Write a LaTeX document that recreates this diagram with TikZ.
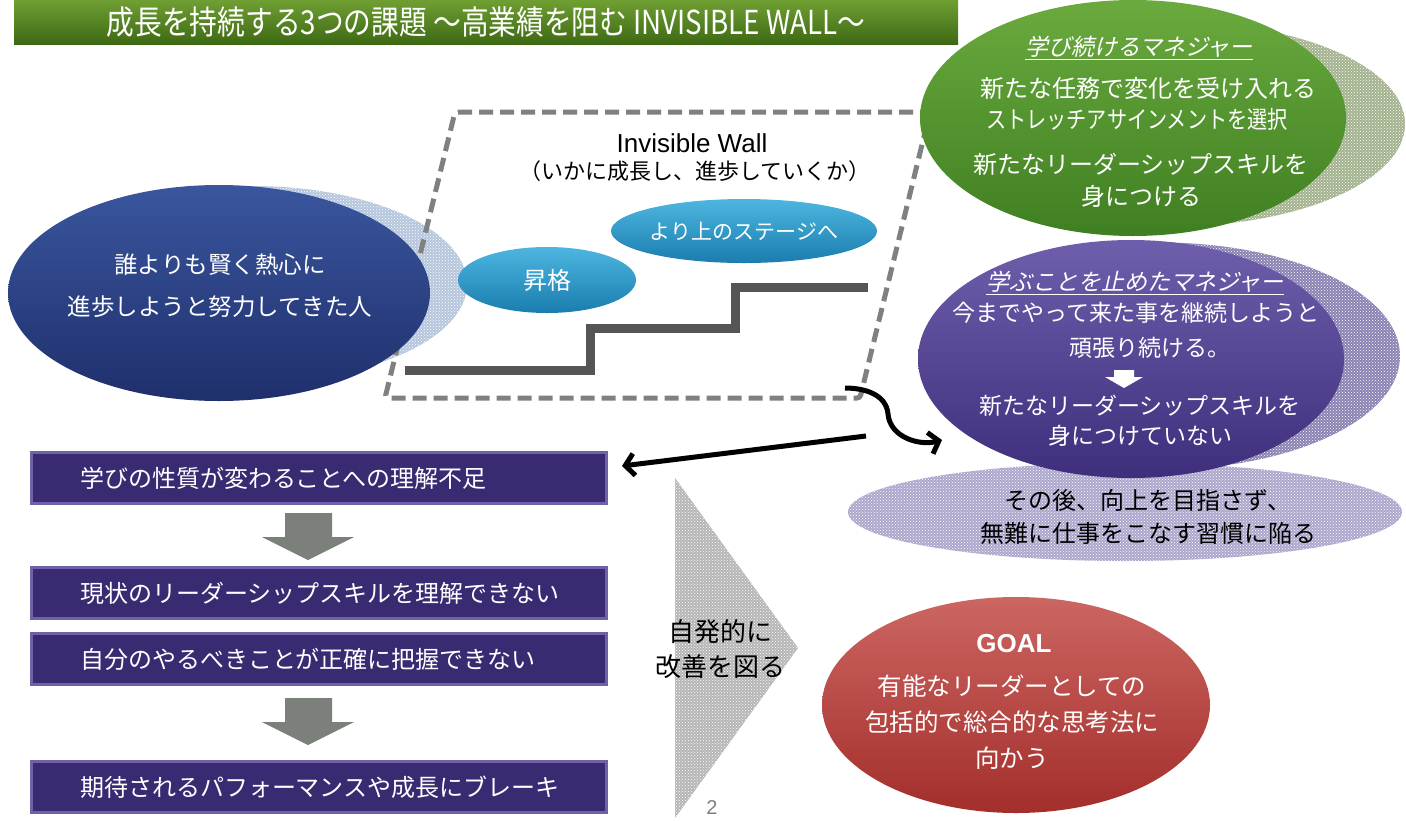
\documentclass[tikz,border=0pt]{standalone}
\usepackage{fontspec}
\setmainfont{Noto Sans CJK JP}
\newfontfamily\jpit[FakeSlant=0.22]{Noto Sans CJK JP}
\newfontfamily\jpcond[FakeStretch=0.84]{Noto Sans CJK JP}
\newfontfamily\latinfont{Liberation Sans}
\usetikzlibrary{shapes.geometric,patterns,arrows.meta,calc}
\definecolor{titletop}{HTML}{6F9F32}
\definecolor{titlebot}{HTML}{3E6914}
\definecolor{persontop}{HTML}{3A569E}
\definecolor{personbot}{HTML}{1F2F6C}
\definecolor{shblue}{HTML}{B4C5DC}
\definecolor{tealtop}{HTML}{4DB6E0}
\definecolor{tealbot}{HTML}{1A7DAE}
\definecolor{stairgray}{HTML}{555555}
\definecolor{wallgray}{HTML}{808080}
\definecolor{greentop}{HTML}{6AAA3E}
\definecolor{greenbot}{HTML}{3F7F22}
\definecolor{shgreen}{HTML}{A3B28E}
\definecolor{purptop}{HTML}{6E5EAC}
\definecolor{purpbot}{HTML}{3E2E7C}
\definecolor{shpurp}{HTML}{8A82B2}
\definecolor{lowpurp}{HTML}{ADA6CC}
\definecolor{boxfill}{HTML}{3A2A72}
\definecolor{boxedge}{HTML}{7062A8}
\definecolor{arrowgray}{HTML}{7B807A}
\definecolor{chevgray}{HTML}{B5B5B5}
\definecolor{redtop}{HTML}{CC6662}
\definecolor{redbot}{HTML}{A32E2B}
\tikzset{
  oval/.style={ellipse, inner sep=0pt, draw=none},
  dotted shadow/.style={oval, fill=#1, postaction={pattern=crosshatch dots, pattern color=white}},
  txt/.style={inner sep=0pt, align=center, text=white},
  wall/.style={draw=wallgray, line width=5pt, dash pattern=on 14pt off 7pt},
  stair/.style={draw=stairgray, line width=9pt},
  pbox/.style={rectangle, fill=boxfill, draw=boxedge, line width=3pt, minimum width=575, minimum height=51,
    inner xsep=0pt, text width=478, align=left, text=white, font=\fontsize{24}{28}\selectfont},
  blockarrow/.style={fill=arrowgray},
  conn/.style={draw=black, line width=5pt, -{Straight Barb[length=9pt,width=22pt,line width=5pt]}}
}
\begin{document}
\begin{tikzpicture}[x=1pt,y=-1pt]
\useasboundingbox (0,0) rectangle (1406,820);
\fill[white] (0,0) rectangle (1406,820);

% title bar
\node[rectangle, minimum width=944, minimum height=44, top color=titletop, bottom color=titlebot,
  inner sep=0pt, text=white, font=\jpcond\fontsize{33}{36}\selectfont] (title) at (486,22)
  {成長を持続する3つの課題 ～高業績を阻む INVISIBLE WALL～};

% left person ellipse
\node[dotted shadow=shblue, minimum width=430, minimum height=196] (lshadow) at (252,284) {};
\draw[wall, rounded corners=3pt] (455,112) -- (930,112) -- (860,398) -- (385,398) -- cycle;
\node[oval, minimum width=422, minimum height=216, top color=persontop, bottom color=personbot] (person) at (219,293) {};
\node[txt, font=\fontsize{23.5}{42}\selectfont] (tperson) at (220,286) {誰よりも賢く熱心に\\進歩しようと努力してきた人};

% invisible wall content
\node[inner sep=0pt, font=\latinfont\fontsize{26}{30}\selectfont] (iw) at (692,143) {Invisible Wall};
\node[inner sep=0pt, font=\fontsize{22}{26}\selectfont] (iwsub) at (695,171) {（いかに成長し、進歩していくか）};
\draw[stair] (405,370) -| (590,328) -| (735,287) -- (868,287);
\node[oval, minimum width=178, minimum height=66, top color=tealtop, bottom color=tealbot,
  text=white, font=\fontsize{24}{28}\selectfont] (promo) at (547,280) {昇格};
\node[oval, minimum width=248, minimum height=64, top color=tealtop, bottom color=tealbot,
  text=white, font=\fontsize{21}{26}\selectfont] (stage) at (744,231) {より上のステージへ};

% green manager
\node[dotted shadow=shgreen, minimum width=470, minimum height=205] (gshadow) at (1170,124) {};
\node[oval, minimum width=426, minimum height=236, top color=greentop, bottom color=greenbot] (green) at (1133,118) {};
\node[txt, font=\jpit\fontsize{23}{28}\selectfont] (g1) at (1139,48) {\underline{学び続けるマネジャー}};
\node[txt, font=\fontsize{24}{28}\selectfont] (g2) at (1148,88) {新たな任務で変化を受け入れる};
\node[txt, font=\jpcond\fontsize{24}{28}\selectfont] (g3) at (1137,119) {ストレッチアサインメントを選択};
\node[txt, font=\fontsize{24}{32}\selectfont] (g4) at (1141,180) {新たなリーダーシップスキルを\\身につける};

% purple manager
\node[dotted shadow=lowpurp, minimum width=554, minimum height=98] (low) at (1125,512) {};
\node[dotted shadow=shpurp, minimum width=480, minimum height=227] (pshadow) at (1160,356) {};
\node[oval, minimum width=426, minimum height=238, top color=purptop, bottom color=purpbot] (purple) at (1131,359) {};
\node[txt, font=\jpit\fontsize{23}{28}\selectfont] (p1) at (1135,283) {\underline{学ぶことを止めたマネジャー}};
\node[txt, font=\fontsize{23}{28}\selectfont] (p2) at (1136,313) {今までやって来た事を継続しようと};
\node[txt, font=\fontsize{23}{28}\selectfont] (p3) at (1150,348) {頑張り続ける。};
\fill[white] (1114,370) -- (1134,370) -- (1134,377) -- (1143,377) -- (1124,388) -- (1105,377) -- (1114,377) -- cycle;
\node[txt, font=\fontsize{23}{30}\selectfont] (p4) at (1140,421) {新たなリーダーシップスキルを\\身につけていない};
\node[txt, text=black, font=\fontsize{24}{33}\selectfont] (lowtxt) at (1148,517) {その後、向上を目指さず、\\無難に仕事をこなす習慣に陥る};

% left chain of boxes
\node[pbox] (b1) at (319,478) {学びの性質が変わることへの理解不足};
\node[pbox] (b2) at (319,593) {現状のリーダーシップスキルを理解できない};
\node[pbox] (b3) at (319,659) {自分のやるべきことが正確に把握できない};
\node[pbox] (b4) at (319,787) {期待されるパフォーマンスや成長にブレーキ};
\fill[blockarrow] (285,513) -- (332,513) -- (332,537) -- (354,537) -- (308,560) -- (262,537) -- (285,537) -- cycle;
\fill[blockarrow] (285,698) -- (332,698) -- (332,722) -- (354,722) -- (308,745) -- (262,722) -- (285,722) -- cycle;

% chevron
\fill[chevgray, postaction={pattern=crosshatch dots, pattern color=white}] (675,478) -- (798,648) -- (675,818) -- cycle;
\node[inner sep=0pt, align=center, font=\fontsize{26}{35}\selectfont] (self) at (720,649) {自発的に\\改善を図る};
\node[inner sep=0pt, text=gray, font=\latinfont\fontsize{20}{22}\selectfont] (pagenum) at (712,808) {2};

% goal
\node[oval, minimum width=388, minimum height=216, top color=redtop, bottom color=redbot] (goal) at (1016,705) {};
\node[inner sep=0pt, text=white, font=\latinfont\bfseries\fontsize{26}{30}\selectfont] (goaltitle) at (1014,644) {GOAL};
\node[txt, font=\fontsize{24.5}{36}\selectfont] (goaltxt) at (1012,722) {有能なリーダーとしての\\包括的で総合的な思考法に\\向かう};

% connectors
\coordinate (wallcorner) at (845,388);
\coordinate (curveend) at (942,440);
\coordinate (straightstart) at (866,436);
\draw[conn] (wallcorner) to[out=0,in=95] (888,414) to[out=-85,in=195] (curveend);
\draw[conn] (straightstart) -- ($(b1.east)+(14,-12)$);
\end{tikzpicture}
\end{document}
